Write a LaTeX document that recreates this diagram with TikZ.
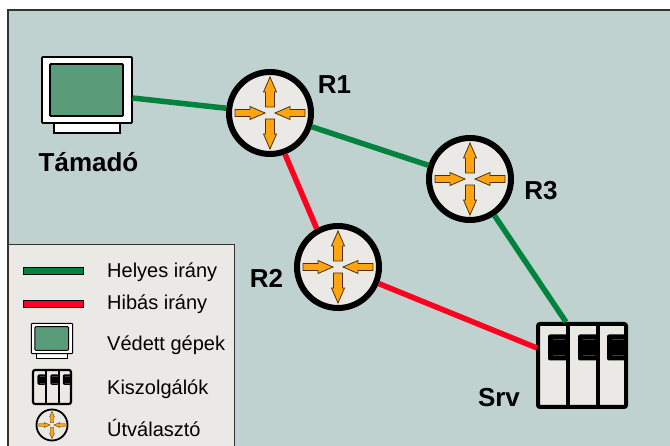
\documentclass[tikz,border=0pt]{standalone}
\usepackage{fontspec}
\setmainfont{Liberation Sans}
\definecolor{bgc}{HTML}{C0D2D0}
\definecolor{panel}{HTML}{EAE9E5}
\definecolor{okc}{HTML}{00843D}
\definecolor{badc}{HTML}{FF0020}
\definecolor{scr}{HTML}{5A9B7A}
\definecolor{org}{HTML}{FFA511}
\newcommand{\glw}{1}
\tikzset{
  x=1pt,y=-1pt,
  link/.style={line width=5.5pt},
  okl/.style={link,okc},
  badl/.style={link,badc},
  lbl/.style={font=\fontsize{26}{28}\selectfont\bfseries,inner sep=0},
  leg/.style={font=\fontsize{20}{22}\selectfont,inner sep=0,anchor=west},
  router/.style={circle,draw=black,fill=panel,line width=6pt,minimum size=82pt,inner sep=0},
  arrowshape/.style={draw=black!70!org,fill=org,line width=\glw*0.8pt},
  routerglyph/.pic={
    \foreach \r in {0,180}
      \draw[arrowshape,rotate=\r] (-4.5,-6)--(-4.5,-21)--(-6.5,-21)--(0,-36)--(6.5,-21)--(4.5,-21)--(4.5,-6)--cycle;
    \foreach \r in {0,180}
      \draw[arrowshape,rotate=\r] (35,-3.5)--(20,-3.5)--(20,-6.5)--(5,0)--(20,6.5)--(20,3.5)--(35,3.5)--cycle;
  },
  monglyph/.pic={
    \draw[fill=white,line width=\glw*1.2pt] (-33,33)rectangle(33,43);
    \draw[fill=white,line width=\glw*1.8pt,rounded corners=1pt] (-45,-33)rectangle(45,33);
    \draw[fill=scr,line width=\glw*1.8pt,rounded corners=1pt] (-37,-26)rectangle(36,26);
  },
  srvglyph/.pic={
    \draw[fill=panel,line width=\glw*4pt,rounded corners=2pt] (-44,-41.5)rectangle(44,41.5);
    \draw[line width=\glw*4pt] (-14,-41.5)--(-14,41.5) (16,-41.5)--(16,41.5);
    \foreach \a/\b in {-34/-14,-4/16,25/45}{
      \fill[black,rounded corners=2pt] (\a,-31)rectangle(\b,-5);
      \draw[black!75,line width=.5pt] (\a+5,-26)--(\b-3,-26) (\a+5,-10)--(\b-3,-10);
    }
  }
}
\begin{document}
\begin{tikzpicture}
\useasboundingbox (0,0) rectangle (670,446);
\draw[fill=bgc,line width=1.2pt,draw=black!80] (8,10) rectangle (675,451);
\draw[fill=panel,line width=1pt,draw=black!80] (8,245) rectangle (234,451);

% main nodes
\node[router] (R1) at (270,113) {};
\node[router] (R3) at (470,179) {};
\node[router] (R2) at (338,267) {};
\pic at (270,113) {routerglyph};
\pic at (470,179) {routerglyph};
\pic at (338,267) {routerglyph};

\pic at (87,90) {monglyph};
\coordinate (monport) at (132.5,98);

\pic at (582,365.5) {srvglyph};
\coordinate (srvT) at (566,322);
\coordinate (srvL) at (537,348);

\draw[okl] (monport) -- (R1);
\draw[okl] (R1) -- (R3);
\draw[okl] (R3) -- (srvT);
\draw[badl] (R1.-70) -- (R2.119);
\draw[badl] (R2) -- (srvL);

\node[lbl] (t1) at (88.5,162.5) {Támadó};
\node[lbl] (t2) at (334.5,84.5) {R1};
\node[lbl] (t3) at (541,190.5) {R3};
\node[lbl] (t4) at (266.5,278.5) {R2};
\node[lbl] (t5) at (499,398) {Srv};

% legend
\draw[fill=okc,line width=.8pt] (23,267.5) rectangle (83,274.5);
\draw[fill=badc,line width=.8pt] (23,300.5) rectangle (83,307.5);
\renewcommand{\glw}{.55}
\pic[scale=.46] at (52,338.5) {monglyph};
\pic[xscale=.43,yscale=.41] at (52,387) {srvglyph};
\node[circle,draw=black,fill=panel,line width=1.8pt,minimum size=31pt,inner sep=0] (lr) at (52,425) {};
\renewcommand{\glw}{.4}
\pic[scale=.38] at (52,425) {routerglyph};
\node[leg] (a) at (107,272) {Helyes irány};
\node[leg] (b) at (107,304.5) {Hibás irány};
\node[leg] (c) at (107,345) {Védett gépek};
\node[leg] (d) at (107,389) {Kiszolgálók};
\node[leg] (e) at (107,427.5) {Útválasztó};
\end{tikzpicture}
\end{document}
